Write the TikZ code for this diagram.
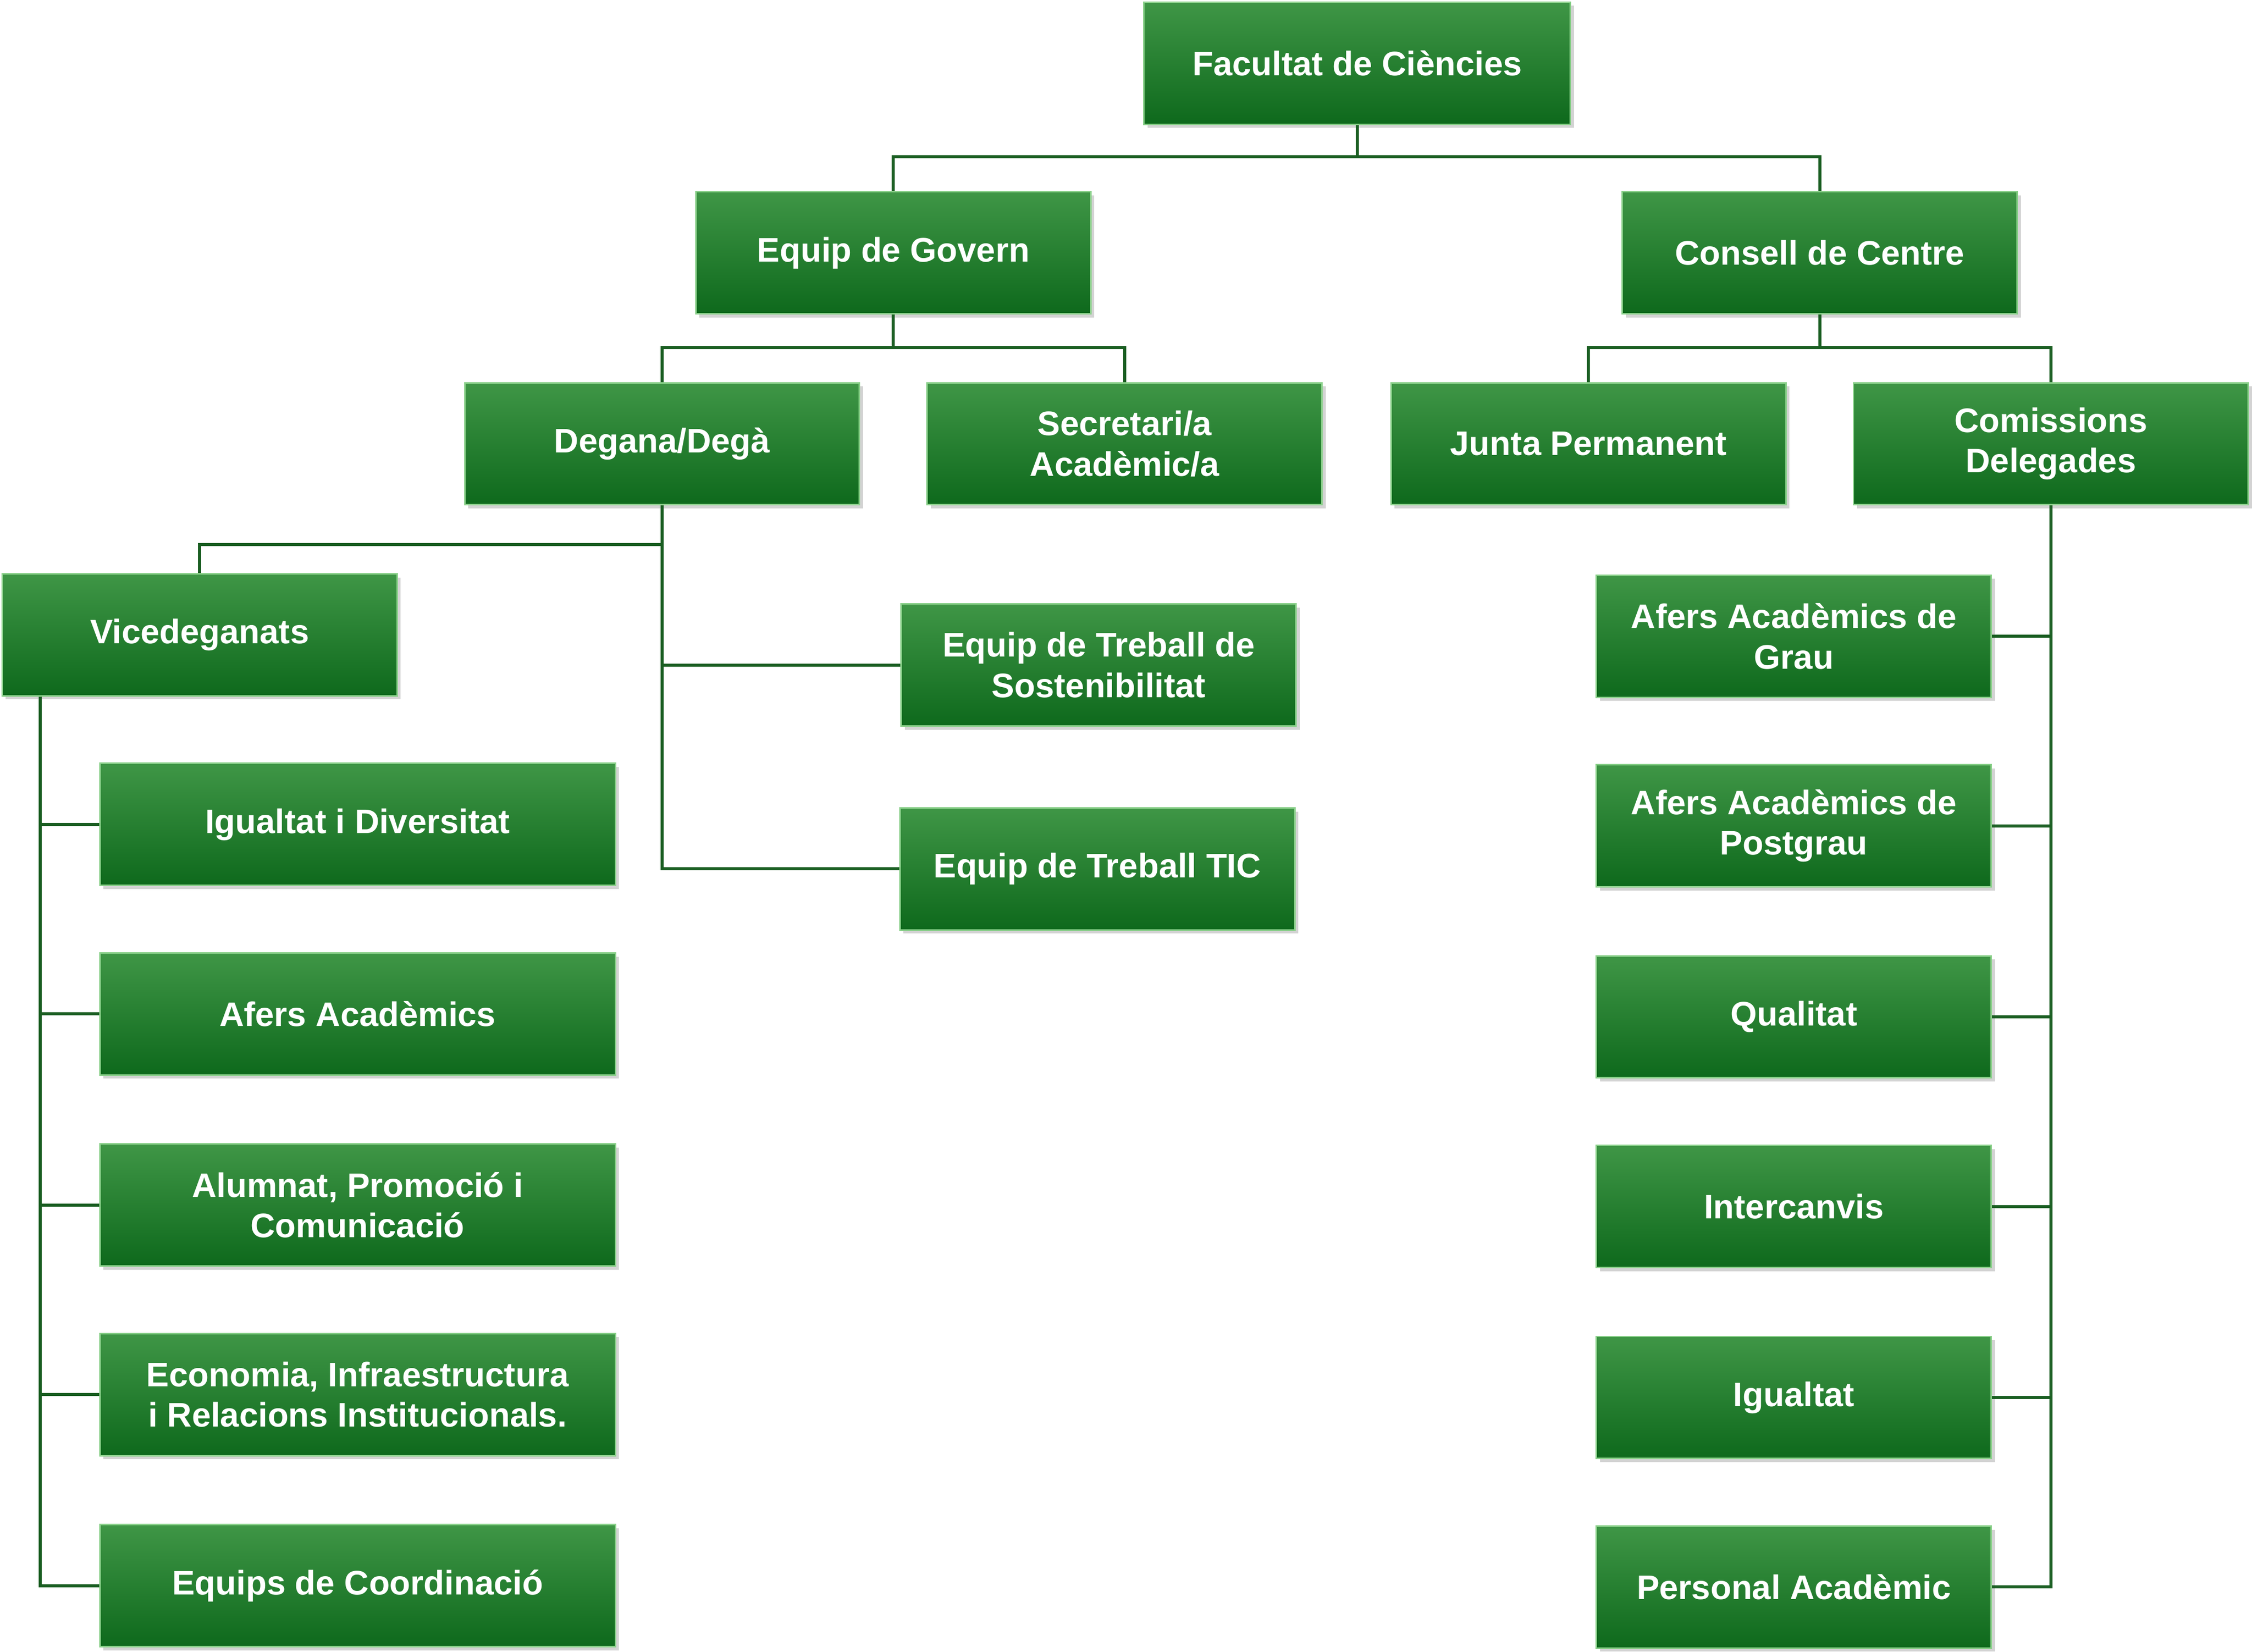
\documentclass[tikz,border=0pt]{standalone}
\usepackage{fontspec}
\setmainfont{Liberation Sans}
\usetikzlibrary{shadows}
\definecolor{boxtop}{HTML}{3F9646}
\definecolor{boxbot}{HTML}{0E691C}
\definecolor{boxline}{HTML}{8AD08A}
\definecolor{linkcol}{HTML}{1A5E22}

\tikzset{
  box/.style={draw=boxline, line width=0.6pt, top color=boxtop, bottom color=boxbot,
    text=white, font=\bfseries\fontsize{13.5}{16}\selectfont, align=center,
    minimum width=5.5cm, minimum height=1.7cm, inner sep=1pt,
    drop shadow={shadow xshift=0.05cm, shadow yshift=-0.05cm, opacity=0.35}},
  wide/.style={box, minimum width=7.18cm},
  link/.style={draw=linkcol, line width=1.2pt}
}

\begin{document}
\begin{tikzpicture}[x=0.02cm, y=-0.02cm]
      \useasboundingbox (0,0) rectangle (1568,1150);
      % top levels
      \node[box, minimum width=5.94cm] (fac) at (945,44) {Facultat de Ciències};
      \node[box] (gov) at (622,176) {Equip de Govern};
      \node[box] (cons) at (1267,176) {Consell de Centre};
      \node[box] (deg) at (461,309) {Degana/Degà};
      \node[box] (sec) at (783,309) {Secretari/a\\Acadèmic/a};
      \node[box] (junta) at (1106,309) {Junta Permanent};
      \node[box] (com) at (1428,309) {Comissions\\Delegades};
      \node[box] (vice) at (139,442) {Vicedeganats};
      \node[box] (sost) at (765,463) {Equip de Treball de\\Sostenibilitat};
      \node[box] (tic) at (764,605) {Equip de Treball TIC};
      % vicedeganats
      \node[wide] (igu) at (249,574) {Igualtat i Diversitat};
      \node[wide] (afe) at (249,706) {Afers Acadèmics};
      \node[wide] (alu) at (249,839) {Alumnat, Promoció i\\Comunicació};
      \node[wide] (eco) at (249,971) {Economia, Infraestructura\\i Relacions Institucionals.};
      \node[wide] (coo) at (249,1104) {Equips de Coordinació};
      % comissions
      \node[box] (grau) at (1249,443) {Afers Acadèmics de\\Grau};
      \node[box] (post) at (1249,575) {Afers Acadèmics de\\Postgrau};
      \node[box] (qual) at (1249,708) {Qualitat};
      \node[box] (inter) at (1249,840) {Intercanvis};
      \node[box] (igual) at (1249,973) {Igualtat};
      \node[box] (pers) at (1249,1105) {Personal Acadèmic};

      % connectors
      \draw[link] (fac.south) |- ([yshift=0.48cm]gov.north) -- (gov.north);
      \draw[link] (fac.south) |- ([yshift=0.48cm]cons.north) -- (cons.north);
      \draw[link] (gov.south) |- ([yshift=0.48cm]deg.north) -- (deg.north);
      \draw[link] (gov.south) |- ([yshift=0.48cm]sec.north) -- (sec.north);
      \draw[link] (cons.south) |- ([yshift=0.48cm]junta.north) -- (junta.north);
      \draw[link] (cons.south) |- ([yshift=0.48cm]com.north) -- (com.north);
      \draw[link] (deg.south) |- ([yshift=0.4cm]vice.north) -- (vice.north);
      \draw[link] (deg.south) |- (sost.west);
      \draw[link] (deg.south) |- (tic.west);
      \foreach \n in {igu,afe,alu,eco,coo}
        \draw[link] ([xshift=0.54cm]vice.south west) |- (\n.west);
      \foreach \n in {grau,post,qual,inter,igual,pers}
        \draw[link] (com.south) |- (\n.east);
\end{tikzpicture}
\end{document}
